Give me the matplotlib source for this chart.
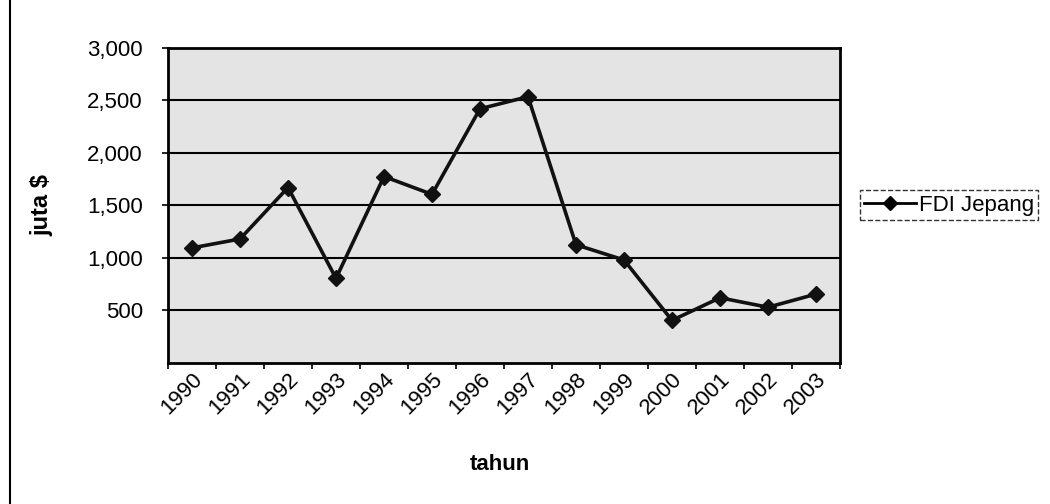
import matplotlib
matplotlib.use("Agg")
import matplotlib.pyplot as plt
from matplotlib.lines import Line2D

plt.rcParams['font.family'] = ['Liberation Sans', 'DejaVu Sans']

years = ['1990', '1991', '1992', '1993', '1994', '1995', '1996',
         '1997', '1998', '1999', '2000', '2001', '2002', '2003']
fdi_jepang = [1095, 1180, 1670, 805, 1775, 1605, 2420,
              2535, 1125, 980, 405, 620, 530, 655]
y_ticks = [500, 1000, 1500, 2000, 2500, 3000]


def main():
    fig = plt.figure(figsize=(10.5, 5.04), dpi=100)
    ax = fig.add_axes([0.16, 0.28, 0.64, 0.625])
    ax.set_facecolor('#e4e4e4')

    x = list(range(len(years)))
    ax.plot(x, fdi_jepang, color='#111111', lw=2.6, marker='D',
            markersize=8, label='FDI Jepang', zorder=3)

    ax.set_xlim(-0.5, len(years) - 0.5)
    ax.set_ylim(0, 3000)
    ax.set_yticks(y_ticks)
    ax.set_yticklabels([f"{v:,}" for v in y_ticks], fontsize=16)
    ax.set_xticks(x)
    ax.set_xticklabels(years, rotation=45, ha='right', rotation_mode='anchor',
                       fontsize=16)
    ax.tick_params(axis='x', length=0, pad=4)
    ax.set_xticks([i - 0.5 for i in range(len(years) + 1)], minor=True)
    ax.tick_params(axis='x', which='minor', length=4, width=1.2)
    ax.tick_params(axis='y', length=4, width=1.2, pad=14)

    ax.yaxis.grid(True, color='black', lw=1.5)
    ax.set_axisbelow(True)
    for s in ax.spines.values():
        s.set_linewidth(2)
        s.set_color('black')

    ax.set_ylabel('juta $', fontsize=17, fontweight='bold')
    ax.yaxis.set_label_coords(-0.17, 0.5)
    ax.set_xlabel('tahun', fontsize=16, fontweight='bold')
    ax.xaxis.set_label_coords(0.494, -0.29)

    leg = fig.legend(handles=[Line2D([], [], color='black', lw=2, marker='D',
                                     markersize=7)],
                     labels=['FDI Jepang'], loc='center left',
                     bbox_to_anchor=(860 / 1050, 1 - 205 / 504),
                     borderaxespad=0, fontsize=16, frameon=True,
                     fancybox=False, handlelength=2.3, borderpad=0.2,
                     handletextpad=0.15)
    leg.get_frame().set_edgecolor('black')
    leg.get_frame().set_linestyle('--')
    leg.get_frame().set_linewidth(1)

    # left edge of the chart area
    fig.add_artist(Line2D([10 / 1050, 10 / 1050], [0, 1], color='black',
                          lw=1.5, transform=fig.transFigure))

    fig.savefig('out.png', dpi=100)


if __name__ == '__main__':
    main()
